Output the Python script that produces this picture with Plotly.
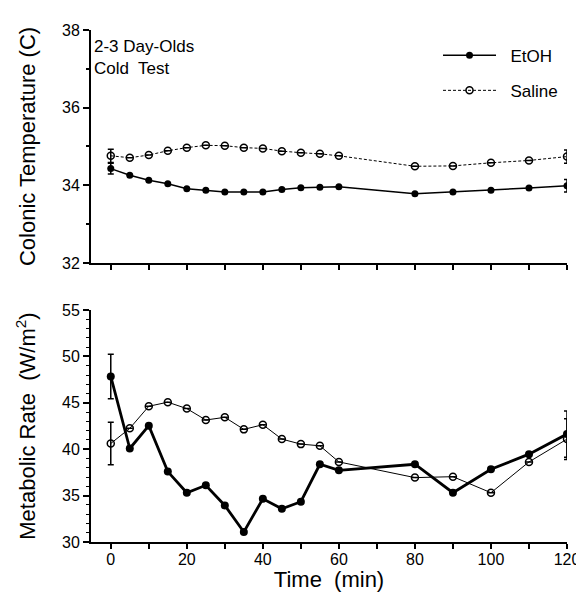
import plotly.graph_objects as go

time = [0, 5, 10, 15, 20, 25, 30, 35, 40, 45, 50, 55, 60, 80, 90, 100, 110, 120]

temp_etoh = [34.43, 34.26, 34.13, 34.04, 33.91, 33.87, 33.83, 33.83, 33.83, 33.89, 33.94, 33.95, 33.96, 33.78, 33.83, 33.87, 33.93, 33.99]
temp_saline = [34.76, 34.71, 34.78, 34.89, 34.97, 35.03, 35.02, 34.97, 34.95, 34.88, 34.84, 34.81, 34.76, 34.49, 34.50, 34.58, 34.64, 34.74]
temp_etoh_err = [0.14] + [None] * 16 + [0.16]
temp_saline_err = [0.17] + [None] * 16 + [0.17]

mr_etoh = [47.85, 40.08, 42.54, 37.59, 35.31, 36.11, 33.94, 31.08, 34.66, 33.58, 34.34, 38.38, 37.73, 38.38, 35.31, 37.84, 39.47, 41.63]
mr_saline = [40.62, 42.25, 44.63, 45.07, 44.38, 43.15, 43.44, 42.14, 42.64, 41.09, 40.55, 40.37, 38.63, 36.94, 37.04, 35.31, 38.63, 41.09]
mr_etoh_err = [2.4] + [None] * 16 + [2.5]
mr_saline_err = [2.3] + [None] * 16 + [2.2]

FONT = "Liberation Sans, Arial, Helvetica, sans-serif"

fig = go.Figure()

def err(arr):
    return dict(type="data", array=arr, visible=True, color="black", thickness=1.5, width=3)

fig.add_trace(go.Scatter(x=time, y=temp_etoh, name="\u00a0\u00a0EtOH", mode="lines+markers",
                         line=dict(color="black", width=1.5),
                         marker=dict(symbol="circle", size=7, color="black"),
                         error_y=err(temp_etoh_err), xaxis="x", yaxis="y", legendgroup="a"))
fig.add_trace(go.Scatter(x=time, y=temp_saline, name="\u00a0\u00a0Saline", mode="lines+markers",
                         line=dict(color="black", width=1, dash="3px,2px"),
                         marker=dict(symbol="circle-open", size=7, color="black", line=dict(width=1.5)),
                         error_y=err(temp_saline_err), xaxis="x", yaxis="y", legendgroup="b"))
fig.add_trace(go.Scatter(x=time, y=mr_saline, name="Saline", mode="lines+markers", showlegend=False,
                         line=dict(color="black", width=1),
                         marker=dict(symbol="circle-open", size=7, color="black", line=dict(width=1.5)),
                         error_y=err(mr_saline_err), xaxis="x2", yaxis="y2"))
fig.add_trace(go.Scatter(x=time, y=mr_etoh, name="EtOH", mode="lines+markers", showlegend=False,
                         line=dict(color="black", width=2.8),
                         marker=dict(symbol="circle", size=8, color="black"),
                         error_y=err(mr_etoh_err), xaxis="x2", yaxis="y2"))

axis_common = dict(showline=True, linecolor="black", linewidth=2, ticks="outside",
                   tickcolor="black", tickwidth=1.5, showgrid=False, zeroline=False,
                   automargin=False,
                   tickfont=dict(family=FONT, size=16, color="black"))

fig.update_layout(
    width=576, height=584,
    margin=dict(l=83, r=17, t=22, b=50),
    paper_bgcolor="white", plot_bgcolor="white",
    font=dict(family=FONT, color="black"),
    showlegend=True,
    legend=dict(x=0.729, y=0.985, xanchor="left", yanchor="top", bgcolor="rgba(0,0,0,0)",
                itemwidth=53,
                font=dict(family=FONT, size=17, color="black"), tracegroupgap=10),
    xaxis=dict(axis_common, range=[-5.2, 120], anchor="y", domain=[0, 1], dtick=20, tick0=0,
               showticklabels=False, ticklen=5,
               minor=dict(dtick=10, ticks="outside", ticklen=5, tickcolor="black", tickwidth=1.5)),
    yaxis=dict(axis_common, range=[32, 38], domain=[0.545, 1], anchor="x", dtick=2, ticklen=6,
               minor=dict(dtick=1, ticks="outside", ticklen=3, tickcolor="black", tickwidth=1.5),
               title=dict(text="Colonic Temperature (C)", font=dict(family=FONT, size=22), standoff=20)),
    xaxis2=dict(axis_common, range=[-5.2, 120], anchor="y2", domain=[0, 1], dtick=20, tick0=0, ticklen=5,
                ticklabelstandoff=-3,
                minor=dict(dtick=10, ticks="outside", ticklen=5, tickcolor="black", tickwidth=1.5),
                title=dict(text="Time  (min)", font=dict(family=FONT, size=22), standoff=3)),
    yaxis2=dict(axis_common, range=[30, 55], domain=[0, 0.453], anchor="x2", dtick=5, ticklen=6,
                minor=dict(dtick=1, ticks="outside", ticklen=3, tickcolor="black", tickwidth=1),
                title=dict(text="Metabolic Rate  (W/m<sup>2</sup>)", font=dict(family=FONT, size=22), standoff=20)),
    annotations=[
        dict(text="2-3 Day-Olds<br>Cold  Test", xref="paper", yref="paper", x=0.002, y=0.99,
             xanchor="left", yanchor="top", align="left", showarrow=False,
             font=dict(family=FONT, size=17, color="black")),
    ],
)

fig.write_html("out.html")
